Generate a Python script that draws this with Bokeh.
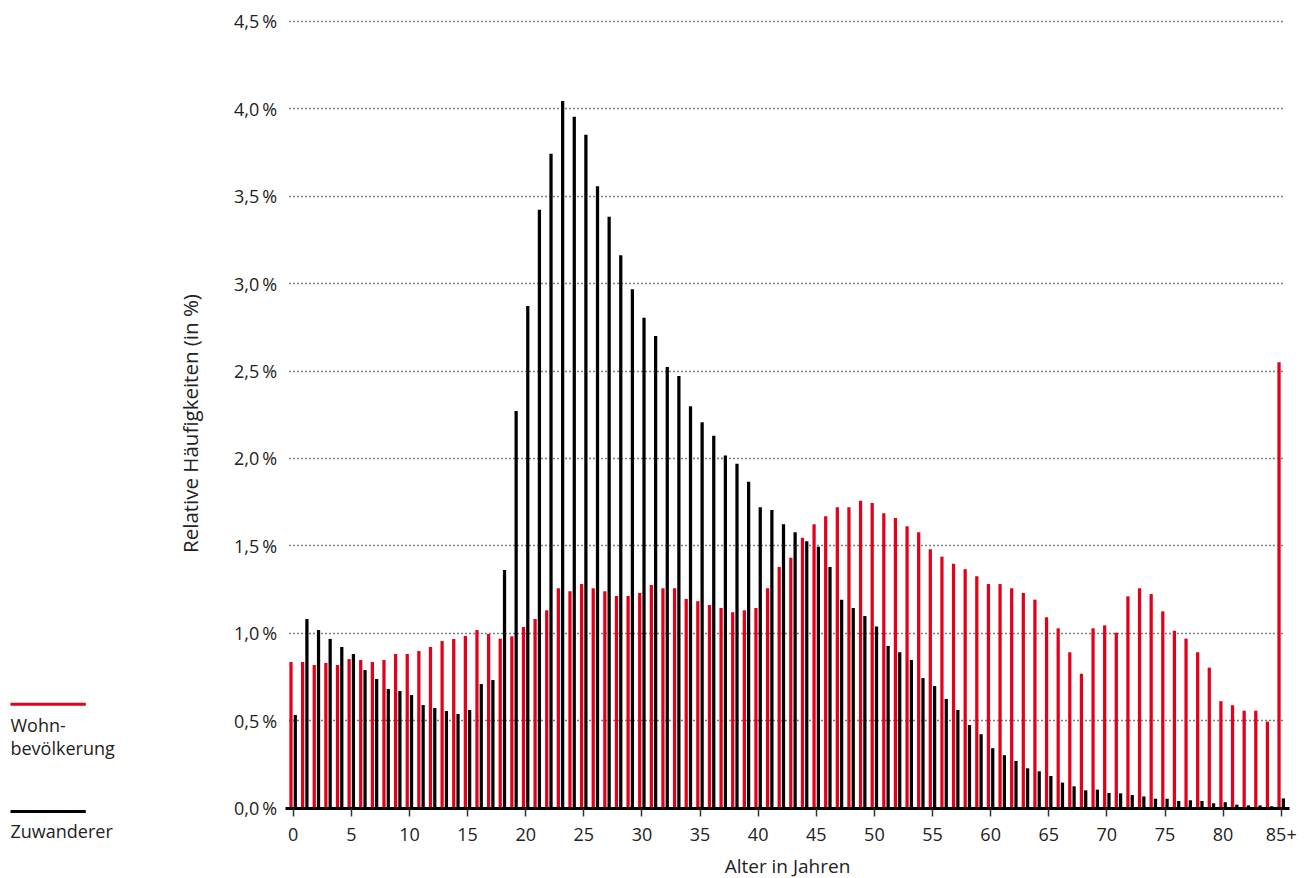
from bokeh.plotting import figure
from bokeh.models import Range1d, FixedTicker, ColumnDataSource
from bokeh.transform import dodge
from bokeh.core.properties import value
from bokeh.embed import file_html
from bokeh.resources import INLINE

# ---------------- data ----------------
ages = list(range(86))
x_tick_values = list(range(0, 86, 5))
x_tick_labels = [str(v) for v in x_tick_values[:-1]] + ["85+"]
y_tick_values = [0.0, 0.5, 1.0, 1.5, 2.0, 2.5, 3.0, 3.5, 4.0, 4.5]
y_tick_labels = ["0,0\u2009%", "0,5\u2009%", "1,0\u2009%", "1,5\u2009%", "2,0\u2009%",
                 "2,5\u2009%", "3,0\u2009%", "3,5\u2009%", "4,0\u2009%", "4,5\u2009%"]
legend_wohn = ["Wohn-", "bevölkerung"]
legend_zuw = ["Zuwanderer"]

wohn = [0.835, 0.835, 0.818, 0.830, 0.818, 0.852, 0.847, 0.835, 0.847, 0.881,
        0.881, 0.898, 0.921, 0.955, 0.967, 0.984, 1.018, 0.995, 0.969, 0.982,
        1.035, 1.081, 1.131, 1.257, 1.240, 1.281, 1.257, 1.240, 1.213, 1.213,
        1.230, 1.276, 1.257, 1.257, 1.196, 1.183, 1.161, 1.144, 1.120, 1.131,
        1.144, 1.257, 1.379, 1.432, 1.546, 1.623, 1.669, 1.720, 1.720, 1.758,
        1.745, 1.686, 1.659, 1.612, 1.577, 1.480, 1.438, 1.398, 1.366, 1.326,
        1.281, 1.281, 1.257, 1.230, 1.192, 1.091, 1.028, 0.891, 0.768, 1.028,
        1.045, 1.003, 1.211, 1.257, 1.224, 1.125, 1.014, 0.969, 0.891, 0.803,
        0.611, 0.588, 0.557, 0.557, 0.494, 2.550]

zuw = [0.532, 1.081, 1.018, 0.967, 0.921, 0.881, 0.789, 0.738, 0.681, 0.669,
       0.646, 0.589, 0.572, 0.555, 0.538, 0.561, 0.709, 0.732, 1.362, 2.271,
       2.872, 3.423, 3.743, 4.045, 3.955, 3.852, 3.557, 3.383, 3.162, 2.967,
       2.805, 2.700, 2.523, 2.471, 2.298, 2.207, 2.130, 2.016, 1.970, 1.867,
       1.720, 1.705, 1.623, 1.577, 1.526, 1.495, 1.379, 1.192, 1.144, 1.098,
       1.039, 0.927, 0.891, 0.847, 0.743, 0.698, 0.624, 0.561, 0.475, 0.422,
       0.342, 0.302, 0.269, 0.227, 0.210, 0.183, 0.145, 0.124, 0.101, 0.105,
       0.086, 0.084, 0.074, 0.066, 0.053, 0.053, 0.040, 0.044, 0.040, 0.027,
       0.033, 0.019, 0.015, 0.015, 0.010, 0.055]

# ---------------- style / layout ----------------
RED = "#e2001a"
BLACK = "#000000"
FONT = "Open Sans"
TEXT = "#222222"

W, H = 1314, 878
XS = 11.624          # pixels per year
YS = 174.8           # pixels per percent
X_ZERO_PX = 292.7    # pixel column of age 0
Y_ZERO_PX = 807.5    # pixel row of 0 %
X_START = -X_ZERO_PX / XS
X_END = X_START + W / XS
Y_END = Y_ZERO_PX / YS
Y_START = Y_END - H / YS
AX_LO, AX_HI = -0.7, 85.7   # extent of the plotted area along x


def X(px):
    return X_START + px / XS


def Y(py):
    return Y_END - py / YS


src = ColumnDataSource(dict(age=ages, wohn=wohn, zuw=zuw))

p = figure(width=W, height=H,
           x_range=Range1d(X_START, X_END), y_range=Range1d(Y_START, Y_END),
           output_backend="svg", toolbar_location=None, min_border=0)
p.outline_line_color = None

p.vbar(x=dodge("age", -0.19), top="wohn", width=0.28, source=src,
       fill_color=RED, line_color=None)
p.vbar(x=dodge("age", 0.18), top="zuw", width=0.28, source=src,
       fill_color=BLACK, line_color=None)

# x axis (drawn at y = 0)
xa = p.xaxis[0]
xa.fixed_location = 0
xa.bounds = (AX_LO, AX_HI)
xa.ticker = FixedTicker(ticks=x_tick_values)
xa.major_label_overrides = {v: l for v, l in zip(x_tick_values, x_tick_labels)}
xa.axis_line_width = 3
xa.axis_line_color = BLACK
xa.major_tick_in = 0
xa.major_tick_out = 8
xa.major_tick_line_color = "#333333"
xa.major_tick_line_width = 1.5
xa.minor_tick_line_color = None
xa.major_label_standoff = 12
xa.major_label_text_font = FONT
xa.major_label_text_font_size = "18px"
xa.major_label_text_color = TEXT
xa.axis_label = "Alter in Jahren"
xa.axis_label_text_font = FONT
xa.axis_label_text_font_size = "19px"
xa.axis_label_text_font_style = "normal"
xa.axis_label_text_color = TEXT
xa.axis_label_standoff = 8

# y axis (drawn at the left edge of the bar area)
ya = p.yaxis[0]
ya.fixed_location = AX_LO
ya.bounds = (-0.1, 4.5)
ya.ticker = FixedTicker(ticks=y_tick_values)
ya.major_label_overrides = {v: l for v, l in zip(y_tick_values, y_tick_labels)}
ya.axis_line_color = None
ya.minor_tick_line_color = None
ya.major_tick_out = 0
ya.major_label_standoff = 8
ya.major_label_text_font = FONT
ya.major_label_text_font_size = "18px"
ya.major_label_text_color = TEXT
ya.axis_label = "Relative Häufigkeiten (in %)"
ya.axis_label_text_font = FONT
ya.axis_label_text_font_size = "20.5px"
ya.axis_label_text_font_style = "normal"
ya.axis_label_text_color = TEXT
ya.axis_label_standoff = 27

p.xgrid.visible = False
grid = p.ygrid[0]
if "cross_bounds" in grid.properties():
    grid.ticker = FixedTicker(ticks=y_tick_values)
    grid.cross_bounds = (AX_LO + 0.4, AX_HI - 0.3)
    grid.grid_line_color = BLACK
    grid.grid_line_dash = "1 3"
    grid.grid_line_width = 1.3
    ya.major_tick_line_color = None
else:
    # dotted horizontal guide lines drawn by the y axis itself
    grid.visible = False
    ya.major_tick_in = int(round((AX_HI - AX_LO) * XS))
    ya.major_tick_line_color = BLACK
    ya.major_tick_line_dash = "1 3"
    ya.major_tick_line_width = 1.3

# ---------------- legend (left of the y axis) ----------------
LEG_X0, LEG_X1 = 10.0, 85.3
p.line(x=[X(LEG_X0), X(LEG_X1)], y=[Y(703.7), Y(703.7)], line_width=3, line_color=RED)
p.text(x=[X(LEG_X0), X(LEG_X0)], y=[Y(724.5), Y(747.0)], text=legend_wohn,
       text_font=value(FONT), text_font_size="18px", text_color=TEXT,
       text_baseline="alphabetic", text_align="left")
p.line(x=[X(LEG_X0), X(LEG_X1)], y=[Y(811.0), Y(811.0)], line_width=3, line_color=BLACK)
p.text(x=[X(LEG_X0)], y=[Y(830.5)], text=legend_zuw,
       text_font=value(FONT), text_font_size="18px", text_color=TEXT,
       text_baseline="alphabetic", text_align="left")

open("out.html", "w").write(file_html(p, INLINE))
